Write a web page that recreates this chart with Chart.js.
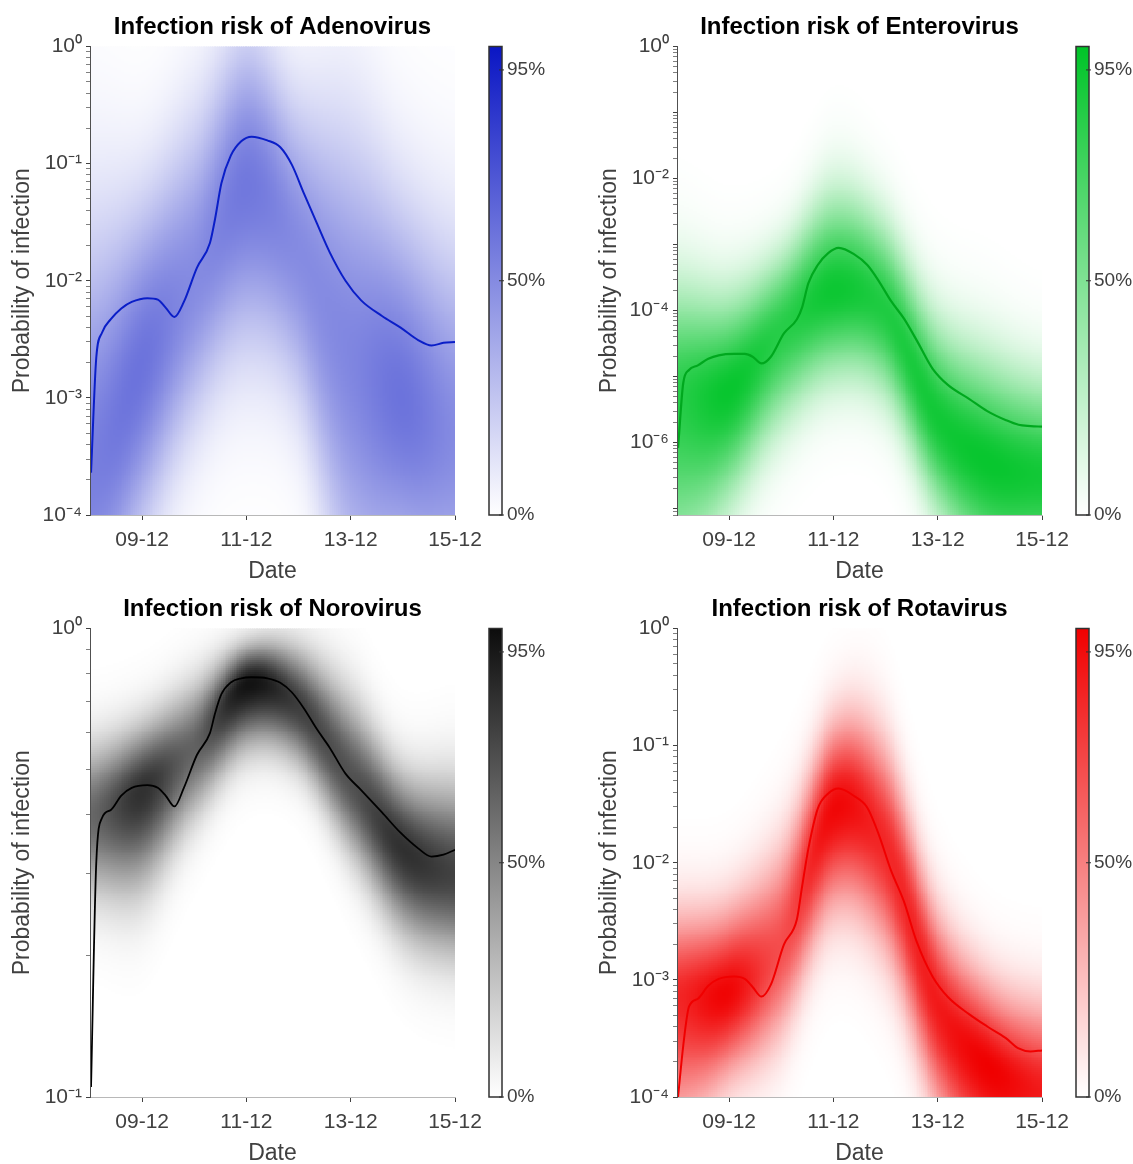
<!DOCTYPE html>
<html>
<head>
<meta charset="utf-8">
<script src="https://cdn.jsdelivr.net/npm/chart.js@4.4.1/dist/chart.umd.min.js"></script>
<style>
  body { margin: 0; background: #fff; }
  #wrap { position: relative; width: 1133px; height: 1164px; overflow: hidden; }
  canvas { position: absolute; }
</style>
</head>
<body>
<div id="wrap">
  <canvas id="adeno" width="566" height="582" style="left:0;top:0"></canvas>
  <canvas id="entero" width="546" height="582" style="left:587px;top:0"></canvas>
  <canvas id="noro" width="566" height="582" style="left:0;top:582px"></canvas>
  <canvas id="rota" width="546" height="582" style="left:587px;top:582px"></canvas>
</div>
<script>
// x axis is day of December, 08-12 .. 15-12
const days = [8.02, 8.12, 8.23, 8.4, 8.6, 8.8, 9.1, 9.3, 9.45, 9.62, 9.8, 10.05, 10.3, 10.4, 10.52, 10.7,
  10.9, 11.1, 11.4, 11.65, 11.87, 12.1, 12.35, 12.6, 12.9, 13.2, 13.6, 13.95, 14.3, 14.55, 14.78, 15.0];
const dateTicks = [9, 11, 13, 15];
const dateLabels = ['09-12', '11-12', '13-12', '15-12'];
const colourTicks = [0, 50, 95];

// median probability of infection (the line)
const adenoMedian = [2.3e-4, 2.2e-3, 3.6e-3, 4.7e-3, 5.8e-3, 6.6e-3, 7.1e-3, 6.9e-3, 5.9e-3, 4.9e-3, 6.6e-3,
  1.29e-2, 2.1e-2, 3.4e-2, 6.8e-2, 0.117, 0.155, 0.17, 0.158, 0.138, 0.098, 0.056, 0.031, 0.0174, 0.01,
  6.8e-3, 5.0e-3, 4.0e-3, 3.1e-3, 2.8e-3, 2.95e-3, 3.0e-3];
const enteroMedian = [8.3e-7, 8.0e-6, 1.26e-5, 1.48e-5, 1.86e-5, 2.1e-5, 2.2e-5, 2.2e-5, 2.0e-5, 1.58e-5, 2.0e-5,
  4.5e-5, 7.4e-5, 1.12e-4, 2.6e-4, 4.9e-4, 7.4e-4, 8.9e-4, 7.1e-4, 4.9e-4, 2.8e-4, 1.41e-4, 7.6e-5, 3.5e-5,
  1.32e-5, 7.4e-6, 4.6e-6, 3.0e-6, 2.2e-6, 1.86e-6, 1.78e-6, 1.74e-6];
const noroMedian = [0.105, 0.316, 0.394, 0.41, 0.44, 0.457, 0.463, 0.457, 0.44, 0.417, 0.457, 0.537, 0.598,
  0.66, 0.724, 0.767, 0.783, 0.787, 0.783, 0.766, 0.731, 0.676, 0.61, 0.556, 0.49, 0.452, 0.405, 0.367,
  0.339, 0.326, 0.329, 0.337];
const rotaMedian = [1.0e-4, 2.75e-4, 5.9e-4, 6.9e-4, 8.9e-4, 1.02e-3, 1.07e-3, 1.02e-3, 8.7e-4, 7.2e-4, 9.1e-4,
  2.0e-3, 3.3e-3, 6.3e-3, 1.32e-2, 2.9e-2, 3.9e-2, 4.3e-2, 3.7e-2, 2.95e-2, 1.74e-2, 8.7e-3, 4.7e-3, 2.1e-3,
  1.07e-3, 7.1e-4, 5.1e-4, 4.0e-4, 3.2e-4, 2.6e-4, 2.45e-4, 2.5e-4];

// shaded density band, read per day: darkest value, half-strength edges above / below, strength (0..1)
const bandDays = [8, 9, 10, 11, 12, 13, 14, 15];
const adenoCentre = [2.5e-4, 1.9e-3, 1.0e-2, 6.3e-2, 2.0e-2, 2.5e-3, 1.0e-3, 5.0e-4];
const adenoUpper = [1.0e-2, 2.5e-2, 0.126, 0.63, 0.2, 7.9e-2, 2.0e-2, 1.0e-2];
const adenoLower = [1.0e-5, 1.26e-4, 1.0e-3, 5.0e-3, 1.6e-3, 5.0e-5, 5.0e-5, 2.5e-5];
const adenoPeak = [0.55, 0.6, 0.5, 0.58, 0.5, 0.52, 0.6, 0.5];

const enteroCentre = [5.0e-6, 6.3e-6, 5.0e-5, 2.0e-4, 1.0e-4, 2.5e-6, 5.0e-7, 3.2e-7];
const enteroUpper = [1.0e-4, 7.9e-5, 4.0e-4, 2.5e-3, 1.0e-3, 3.2e-5, 7.9e-6, 4.0e-6];
const enteroLower = [5.0e-8, 3.2e-7, 4.0e-6, 2.0e-5, 1.0e-5, 2.0e-7, 2.5e-8, 2.0e-8];
const enteroPeak = [0.85, 0.97, 0.85, 0.95, 0.88, 0.93, 0.97, 0.93];

const noroCentre = [0.40, 0.45, 0.56, 0.76, 0.69, 0.48, 0.34, 0.30];
const noroUpper = [0.52, 0.575, 0.71, 0.88, 0.85, 0.65, 0.45, 0.42];
const noroLower = [0.295, 0.316, 0.427, 0.60, 0.55, 0.363, 0.25, 0.22];
const noroPeak = [0.62, 0.85, 0.65, 0.97, 0.8, 0.72, 0.85, 0.78];

const rotaCentre = [7.1e-4, 7.9e-4, 2.0e-3, 2.8e-2, 1.4e-2, 6.3e-4, 1.8e-4, 1.1e-4];
const rotaUpper = [2.5e-3, 2.8e-3, 8.9e-3, 0.1, 6.3e-2, 2.5e-3, 6.3e-4, 4.0e-4];
const rotaLower = [1.1e-4, 2.2e-4, 5.0e-4, 6.3e-3, 2.8e-3, 1.26e-4, 3.2e-5, 2.5e-5];
const rotaPeak = [0.85, 0.98, 0.7, 0.97, 0.85, 0.9, 1.0, 0.9];

const panels = [
  { id: 'adeno', title: 'Infection risk of Adenovirus', median: adenoMedian, centre: adenoCentre,
    upper: adenoUpper, lower: adenoLower, peak: adenoPeak, yMin: 1e-4, labelStep: 1,
    top: [10, 22, 196], line: '#0a1ec8', lineWidth: 2 },
  { id: 'entero', title: 'Infection risk of Enterovirus', median: enteroMedian, centre: enteroCentre,
    upper: enteroUpper, lower: enteroLower, peak: enteroPeak, yMin: 8e-8, labelStep: 2,
    top: [0, 196, 40], line: '#00a81e', lineWidth: 2.2 },
  { id: 'noro', title: 'Infection risk of Norovirus', median: noroMedian, centre: noroCentre,
    upper: noroUpper, lower: noroLower, peak: noroPeak, yMin: 0.1, labelStep: 1,
    top: [12, 12, 12], line: '#000000', lineWidth: 1.8 },
  { id: 'rota', title: 'Infection risk of Rotavirus', median: rotaMedian, centre: rotaCentre,
    upper: rotaUpper, lower: rotaLower, peak: rotaPeak, yMin: 1e-4, labelStep: 1,
    top: [240, 0, 0], line: '#f00000', lineWidth: 2 }
];

Chart.defaults.font.family = '"Liberation Sans", Arial, sans-serif';
Chart.defaults.color = '#404040';

const SUP = { '-': '⁻', '0': '⁰', '1': '¹', '2': '²', '3': '³', '4': '⁴', '5': '⁵', '6': '⁶', '7': '⁷', '8': '⁸', '9': '⁹' };
function pow10Label(e) {
  return '10' + String(e).split('').map(c => SUP[c]).join('');
}

function mixColour(top, v) {
  const c = top.map(t => Math.round(255 - v * (255 - t)));
  return 'rgb(' + c.join(',') + ')';
}

// smooth (catmull-rom) reading of a band array between the read days
function bandValue(arr, d, useLog) {
  const vals = arr.map(v => useLog ? Math.log10(v) : v);
  let i = 0;
  while (i < bandDays.length - 2 && d > bandDays[i + 1]) i++;
  const t = Math.max(0, Math.min(1, (d - bandDays[i]) / (bandDays[i + 1] - bandDays[i])));
  const p0 = vals[Math.max(0, i - 1)], p1 = vals[i], p2 = vals[i + 1], p3 = vals[Math.min(vals.length - 1, i + 2)];
  const t2 = t * t, t3 = t2 * t;
  return 0.5 * (2 * p1 + (p2 - p0) * t + (2 * p0 - 5 * p1 + 4 * p2 - p3) * t2 + (3 * p1 - p0 - 3 * p2 + p3) * t3);
}

function heatPlugin(p) {
  return {
    id: 'heat_' + p.id,
    beforeDatasetsDraw(chart) {
      const { ctx, chartArea: a } = chart;
      const x = chart.scales.x, y = chart.scales.y;
      const lmin = Math.log10(y.min), lmax = Math.log10(y.max);
      const nx = 200, ny = 240;
      ctx.save();
      ctx.beginPath();
      ctx.rect(a.left, a.top, a.right - a.left, a.bottom - a.top);
      ctx.clip();
      for (let i = 0; i < nx; i++) {
        const d0 = x.min + (x.max - x.min) * i / nx;
        const d1 = x.min + (x.max - x.min) * (i + 1) / nx;
        const dm = (d0 + d1) / 2;
        const c = bandValue(p.centre, dm, true);
        const up = Math.max(0.02, bandValue(p.upper, dm, true) - c);
        const lo = Math.max(0.02, c - bandValue(p.lower, dm, true));
        const pk = bandValue(p.peak, dm, false);
        const px0 = Math.floor(x.getPixelForValue(d0)), px1 = Math.ceil(x.getPixelForValue(d1));
        for (let j = 0; j < ny; j++) {
          const l0 = lmin + (lmax - lmin) * j / ny;
          const l1 = lmin + (lmax - lmin) * (j + 1) / ny;
          const dist = (l0 + l1) / 2 - c;
          const h = dist > 0 ? up : lo;
          const v = Math.min(1, Math.max(0, pk * Math.exp(-Math.LN2 * (dist / h) * (dist / h))));
          if (v < 0.004) continue;
          const py0 = Math.ceil(y.getPixelForValue(Math.pow(10, l0)));
          const py1 = Math.floor(y.getPixelForValue(Math.pow(10, l1)));
          ctx.fillStyle = mixColour(p.top, v);
          ctx.fillRect(px0, py1, px1 - px0, py0 - py1);
        }
      }
      ctx.restore();
    }
  };
}

function colourBarPlugin(p) {
  return {
    id: 'cbar_' + p.id,
    afterDraw(chart) {
      const { ctx } = chart;
      const s = chart.scales.cb;
      const x0 = s.left + 34, w = 13;
      const yTop = s.getPixelForValue(100), yBot = s.getPixelForValue(0);
      const g = ctx.createLinearGradient(0, yBot, 0, yTop);
      g.addColorStop(0, '#ffffff');
      g.addColorStop(1, mixColour(p.top, 1));
      ctx.save();
      ctx.fillStyle = g;
      ctx.fillRect(x0, yTop, w, yBot - yTop);
      ctx.strokeStyle = '#303030';
      ctx.lineWidth = 1.5;
      ctx.strokeRect(x0, yTop, w, yBot - yTop);
      ctx.lineWidth = 1;
      colourTicks.forEach(v => {
        const yy = s.getPixelForValue(v);
        ctx.beginPath();
        ctx.moveTo(x0 + w - 3, yy);
        ctx.lineTo(x0 + w + 2, yy);
        ctx.stroke();
      });
      ctx.restore();
    }
  };
}

// drop the label overflow padding so the plot box sits where the reference has it
function noPad(s) {
  s.paddingTop = 0;
  s.paddingBottom = 0;
  s.paddingLeft = 0;
  s.paddingRight = 0;
}

panels.forEach(p => {
  const canvas = document.getElementById(p.id);
  new Chart(canvas, {
    type: 'line',
    data: {
      datasets: [{
        data: days.map((d, i) => ({ x: d, y: p.median[i] })),
        borderColor: p.line,
        borderWidth: p.lineWidth,
        pointRadius: 0,
        cubicInterpolationMode: 'monotone',
        fill: false
      }]
    },
    options: {
      responsive: false,
      animation: false,
      events: [],
      layout: { padding: 0 },
      plugins: {
        legend: { display: false },
        tooltip: { enabled: false },
        title: {
          display: true, text: p.title, fullSize: false, color: '#000',
          font: { size: 24, weight: 'bold' }, padding: { top: 13.1, bottom: 4.6 }
        }
      },
      scales: {
        x: {
          type: 'linear', min: 8, max: 15, position: 'bottom',
          afterBuildTicks: s => { s.ticks = dateTicks.map(v => ({ value: v })); },
          afterFit: s => { s.height = 67; noPad(s); },
          ticks: {
            callback: v => dateLabels[dateTicks.indexOf(v)],
            autoSkip: false, maxRotation: 0, padding: 8, font: { size: 21 }, color: '#404040'
          },
          grid: { drawOnChartArea: false, tickLength: 5, tickColor: '#404040' },
          border: { color: '#b8b8b8', z: 1 },
          title: { display: true, text: 'Date', font: { size: 23 }, color: '#404040', padding: { top: 0, bottom: -3 } }
        },
        y: {
          type: 'logarithmic', min: p.yMin, max: 1, position: 'left',
          afterBuildTicks: s => {
            const out = [];
            for (let e = Math.floor(Math.log10(p.yMin)); e <= 0; e++) {
              for (let k = 1; k <= 9; k++) {
                const v = k * Math.pow(10, e);
                if (v >= p.yMin * 0.999 && v <= 1.001) out.push({ value: v, major: k === 1 });
              }
            }
            s.ticks = out;
          },
          afterFit: s => { s.width = 90; noPad(s); },
          ticks: {
            autoSkip: false, padding: 4, font: { size: 21 }, color: '#404040',
            callback: v => {
              const e = Math.round(Math.log10(v));
              return Math.abs(Math.log10(v) - e) < 1e-6 && e % p.labelStep === 0 ? pow10Label(e) : '';
            }
          },
          grid: {
            drawOnChartArea: false, tickLength: 4,
            tickColor: c => (c.tick && c.tick.major ? '#404040' : '#808080')
          },
          border: { color: '#505050', z: 1 },
          title: {
            display: true, text: 'Probability of infection', font: { size: 23 }, color: '#404040',
            padding: { top: 9, bottom: 0 }
          }
        },
        cb: {
          type: 'linear', min: 0, max: 100, position: 'right',
          afterBuildTicks: s => { s.ticks = colourTicks.map(v => ({ value: v })); },
          afterFit: s => { s.width = canvas.width - 455; noPad(s); },
          ticks: { callback: v => v + '%', autoSkip: false, padding: 52, font: { size: 19 }, color: '#404040' },
          grid: { display: false, drawTicks: false },
          border: { display: false }
        }
      }
    },
    plugins: [heatPlugin(p), colourBarPlugin(p)]
  });
});
</script>
</body>
</html>
